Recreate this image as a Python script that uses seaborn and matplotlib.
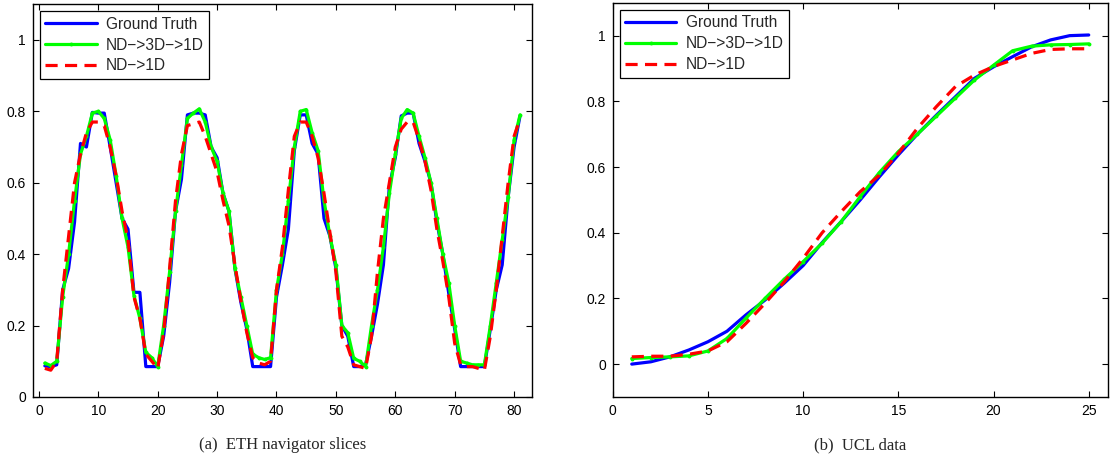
import numpy as np
import pandas as pd
import matplotlib
matplotlib.use("Agg")
import matplotlib.pyplot as plt
import seaborn as sns

# ---------------- data: (a) ETH navigator slices ----------------
eth_x = list(range(1, 82))
eth_gt = [0.087, 0.085, 0.09, 0.30, 0.36, 0.49, 0.71, 0.70, 0.797, 0.795,
          0.795, 0.70, 0.60, 0.50, 0.47, 0.293, 0.293, 0.085, 0.085, 0.085,
          0.17, 0.32, 0.52, 0.61, 0.79, 0.795, 0.795, 0.79, 0.70, 0.67,
          0.57, 0.52, 0.36, 0.265, 0.19, 0.085, 0.085, 0.085, 0.085, 0.28,
          0.37, 0.47, 0.69, 0.79, 0.79, 0.71, 0.68, 0.50, 0.45, 0.36,
          0.20, 0.17, 0.085, 0.085, 0.09, 0.17, 0.26, 0.37, 0.59, 0.67,
          0.787, 0.795, 0.795, 0.71, 0.66, 0.60, 0.49, 0.40, 0.29, 0.19,
          0.085, 0.085, 0.085, 0.085, 0.085, 0.19, 0.30, 0.37, 0.56, 0.70,
          0.787]
eth_3d = [0.095, 0.088, 0.10, 0.28, 0.40, 0.55, 0.68, 0.73, 0.795, 0.80,
          0.78, 0.72, 0.62, 0.50, 0.42, 0.284, 0.22, 0.125, 0.11, 0.085,
          0.20, 0.35, 0.52, 0.65, 0.78, 0.795, 0.807, 0.77, 0.70, 0.66,
          0.57, 0.52, 0.36, 0.28, 0.20, 0.12, 0.11, 0.105, 0.11, 0.30,
          0.40, 0.55, 0.70, 0.80, 0.805, 0.74, 0.69, 0.55, 0.45, 0.37,
          0.20, 0.18, 0.108, 0.10, 0.085, 0.20, 0.30, 0.42, 0.57, 0.68,
          0.78, 0.805, 0.795, 0.73, 0.67, 0.60, 0.50, 0.40, 0.32, 0.20,
          0.10, 0.095, 0.09, 0.09, 0.09, 0.20, 0.32, 0.44, 0.56, 0.72,
          0.79]
eth_1d = [0.08, 0.075, 0.10, 0.30, 0.45, 0.60, 0.68, 0.74, 0.77, 0.77,
          0.76, 0.70, 0.62, 0.52, 0.44, 0.28, 0.22, 0.12, 0.10, 0.08,
          0.18, 0.36, 0.55, 0.68, 0.76, 0.765, 0.77, 0.73, 0.68, 0.63,
          0.55, 0.48, 0.37, 0.27, 0.18, 0.11, 0.095, 0.09, 0.10, 0.30,
          0.42, 0.58, 0.73, 0.77, 0.77, 0.73, 0.67, 0.57, 0.46, 0.35,
          0.17, 0.14, 0.09, 0.085, 0.08, 0.17, 0.35, 0.50, 0.60, 0.70,
          0.75, 0.77, 0.77, 0.72, 0.66, 0.58, 0.47, 0.38, 0.28, 0.15,
          0.09, 0.085, 0.085, 0.08, 0.075, 0.17, 0.30, 0.45, 0.60, 0.73,
          0.78]

# ---------------- data: (b) UCL data ----------------
ucl_x = list(range(1, 26))
ucl_gt = [0.0, 0.007, 0.022, 0.043, 0.068, 0.10, 0.15, 0.195, 0.246, 0.30,
          0.37, 0.434, 0.50, 0.57, 0.637, 0.70, 0.758, 0.814, 0.87, 0.905,
          0.936, 0.966, 0.987, 1.0, 1.002]
ucl_3d = [0.017, 0.02, 0.022, 0.025, 0.04, 0.078, 0.14, 0.20, 0.258, 0.312,
          0.368, 0.434, 0.51, 0.583, 0.647, 0.70, 0.755, 0.81, 0.865, 0.91,
          0.954, 0.968, 0.972, 0.973, 0.975]
ucl_1d = [0.022, 0.024, 0.024, 0.03, 0.04, 0.068, 0.124, 0.185, 0.25, 0.322,
          0.40, 0.464, 0.525, 0.575, 0.642, 0.718, 0.784, 0.845, 0.88, 0.906,
          0.926, 0.946, 0.958, 0.96, 0.96]

series_names = ["Ground Truth", "ND\u2212>3D\u2212>1D", "ND\u2212>1D"]
yticks = [0, 0.2, 0.4, 0.6, 0.8, 1]
ytick_labels = ["0", "0.2", "0.4", "0.6", "0.8", "1"]
eth_xticks = [0, 10, 20, 30, 40, 50, 60, 70, 80]
ucl_xticks = [0, 5, 10, 15, 20, 25]
captions = ["(a)  ETH navigator slices", "(b)  UCL data"]

sns.set_style("ticks")
plt.rcParams["font.family"] = ["Liberation Sans", "DejaVu Sans"]
plt.rcParams["xtick.direction"] = "in"
plt.rcParams["ytick.direction"] = "in"
plt.rcParams["xtick.top"] = True
plt.rcParams["ytick.right"] = True

fig = plt.figure(figsize=(11.1, 4.67), dpi=100)
ax1 = fig.add_axes([0.0297, 0.150, 0.4495, 0.841])
ax2 = fig.add_axes([0.552, 0.150, 0.446, 0.844])


def draw(ax, x, gt, d3, d1):
    df = pd.DataFrame({"x": x, "gt": gt, "d3": d3, "d1": d1})
    sns.lineplot(data=df, x="x", y="gt", ax=ax, color="#0000ff", lw=2.3,
                 label=series_names[0])
    sns.lineplot(data=df, x="x", y="d3", ax=ax, color="#00ff00", lw=2.3,
                 marker="o", markersize=2.8, markeredgewidth=0,
                 label=series_names[1])
    sns.lineplot(data=df, x="x", y="d1", ax=ax, color="#ff0000", lw=2.3,
                 dashes=(3.8, 2.3), label=series_names[2])
    ax.set_xlabel("")
    ax.set_ylabel("")
    for s in ax.spines.values():
        s.set_color("black")
        s.set_linewidth(1.0)
    ax.tick_params(axis="both", which="both", length=4, width=0.8,
                   colors="black", labelsize=10, pad=5)
    leg = ax.legend(loc="upper left", fontsize=11.2, frameon=True,
                    fancybox=False, edgecolor="black", framealpha=1,
                    handlelength=3.3, borderaxespad=0.45, labelspacing=0.38,
                    borderpad=0.35, handletextpad=0.6)
    leg.get_frame().set_linewidth(0.9)


draw(ax1, eth_x, eth_gt, eth_3d, eth_1d)
ax1.set_xlim(-1, 83)
ax1.set_ylim(0, 1.1)
ax1.set_xticks(eth_xticks)
ax1.set_yticks(yticks)
ax1.set_yticklabels(ytick_labels)

draw(ax2, ucl_x, ucl_gt, ucl_3d, ucl_1d)
ax2.set_xlim(0, 26)
ax2.set_ylim(-0.1, 1.1)
ax2.set_xticks(ucl_xticks)
ax2.set_yticks(yticks)
ax2.set_yticklabels(ytick_labels)

for ax, cap in zip([ax1, ax2], captions):
    pos = ax.get_position()
    fig.text((pos.x0 + pos.x1) / 2, 0.047, cap, ha="center", va="center",
             fontsize=12, family=["Liberation Serif", "DejaVu Serif"])

fig.savefig("out.png", dpi=100)
